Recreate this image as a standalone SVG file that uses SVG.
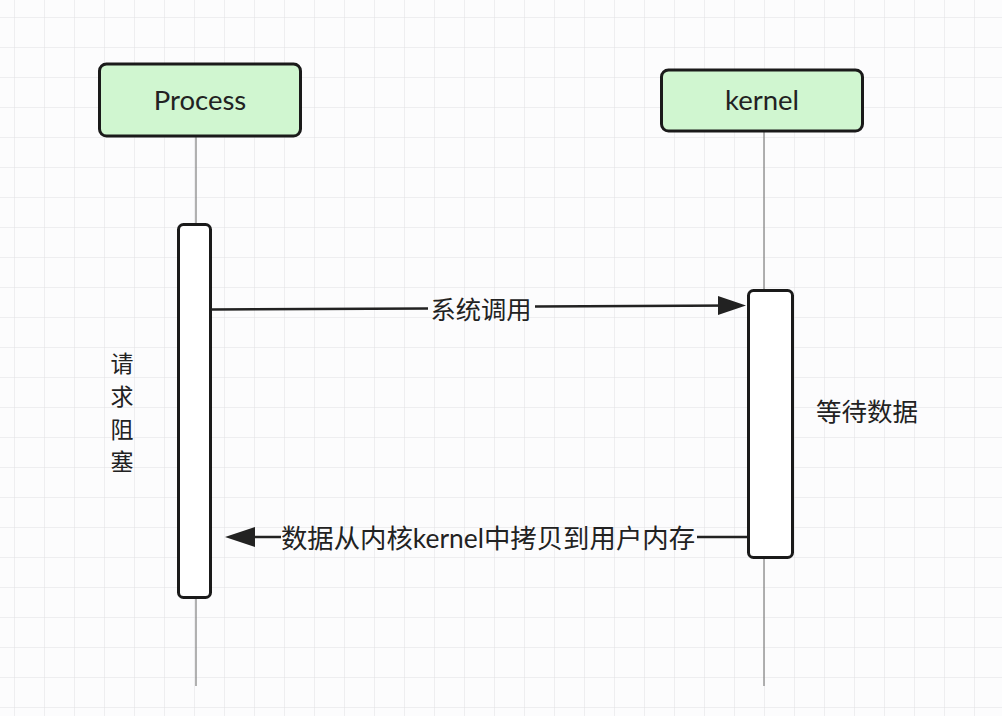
<svg xmlns="http://www.w3.org/2000/svg" width="1002" height="716" viewBox="0 0 1002 716">
<defs>
<pattern id="grid" x="14" y="17" width="30" height="30" patternUnits="userSpaceOnUse">
<path d="M0 0V30M0 0H30" fill="none" stroke="#e0e0e4" stroke-width="1"/>
</pattern>
<style>
.head{fill:#d0f6d0;stroke:#1a1a1a;stroke-width:3}
.act{fill:#fff;stroke:#1a1a1a;stroke-width:3}
.life{stroke:#888;stroke-width:1.3}
.msg{stroke:#222;stroke-width:2.5;fill:none}
.t{font-family:Lato,"Noto Sans","Noto Sans CJK SC",sans-serif;fill:#222;font-size:27.5px}
.c{font-family:"Noto Sans CJK SC",sans-serif;fill:#222}
.lat{font-family:Lato,"Noto Sans",sans-serif}
</style>
</defs>
<rect width="1002" height="716" fill="#fcfcfd"/>
<rect width="1002" height="716" fill="url(#grid)"/>
<g id="lifelines">
<line class="life" x1="196" y1="136" x2="196" y2="686"/>
<line class="life" x1="764" y1="131" x2="764" y2="686"/>
</g>
<g id="process">
<rect class="head" x="99.5" y="64" width="201" height="72" rx="7"/>
<text class="t" x="200" y="110" text-anchor="middle">Process</text>
</g>
<g id="kernel">
<rect class="head" x="661.5" y="70" width="201" height="61" rx="7"/>
<text class="t" x="762" y="110" text-anchor="middle">kernel</text>
</g>
<g id="process-activation">
<rect class="act" x="178.5" y="224.5" width="32" height="373" rx="5"/>
</g>
<g id="kernel-activation">
<rect class="act" x="748.5" y="290.5" width="44" height="267" rx="5"/>
</g>
<g id="connectors">
<path class="msg" d="M211 309.5L428 308.5M535 306.5L736 305.5"/>
<path d="M746 305.5L718 296L718 315Z" fill="#222"/>
<path class="msg" d="M747 537H697M281 537H252"/>
<path d="M225 537L255 527L255 547Z" fill="#222"/>
</g>
<g id="labels">
<text class="c" x="481" y="319" text-anchor="middle" font-size="25.3">系统调用</text>
<text class="c" x="488" y="548" text-anchor="middle" font-size="26.4">数据从内核<tspan class="lat">kernel</tspan>中拷贝到用户内存</text>
<text class="c" x="867" y="421" text-anchor="middle" font-size="25.5">等待数据</text>
<text class="c" x="122" y="372" text-anchor="middle" font-size="23">请</text>
<text class="c" x="122" y="405" text-anchor="middle" font-size="23">求</text>
<text class="c" x="122" y="438" text-anchor="middle" font-size="23">阻</text>
<text class="c" x="122" y="470" text-anchor="middle" font-size="23">塞</text>
</g>
</svg>
